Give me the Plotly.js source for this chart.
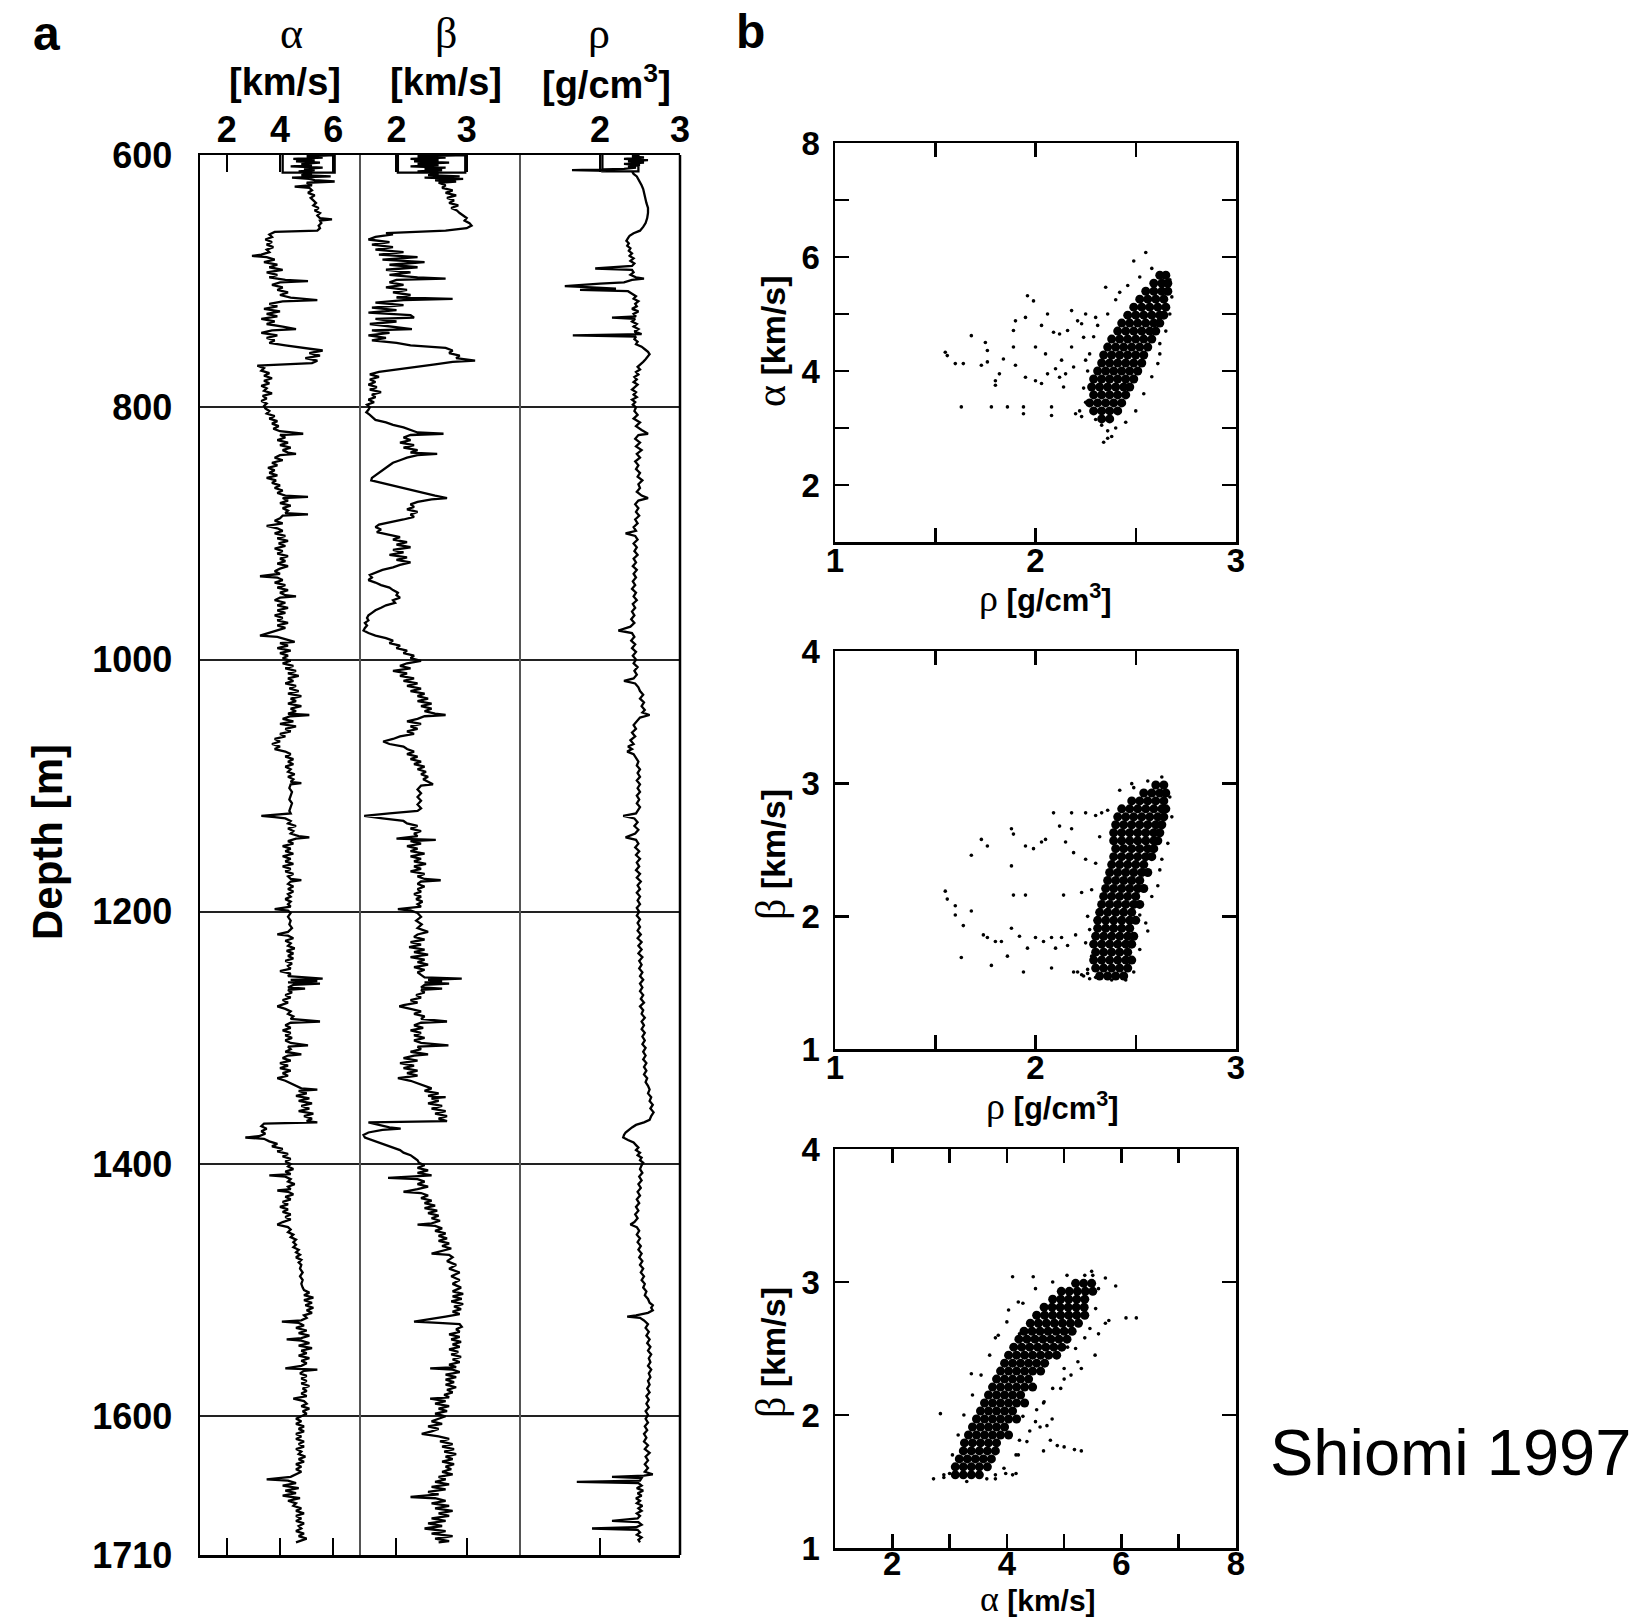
<!DOCTYPE html>
<html><head><meta charset="utf-8">
<script src="https://cdn.plot.ly/plotly-3.0.1.min.js"></script>
<style>html,body{margin:0;padding:0;background:#fff;}#chart{width:1645px;height:1619px;}</style>
</head><body><div id="chart"></div>
<script>
// ---------- DATA ----------
const depthTicks = [600,800,1000,1200,1400,1600,1710];
const alphaTicks = [2,4,6];
const betaTicks = [2,3];
const rhoTicks = [2,3];

// [depth m, alpha km/s]
const alphaLog = [[600,4.1],[614,4.1],[614,6.05],[600,6.05],[601,5.0],[602,5.6],[603,4.5],[604,5.3],[605,4.6],[606,5.5],[607,4.8],[608,5.2],[609,4.4],[610,5.6],[611,4.9],[612,5.3],[613,4.7],[615,5.2],[616,4.8],[617,5.9],[618,4.45],[619,5.1],[620,5.3],[621,6.05],[622,5.0],[624,5.2],[625,4.55],[626,5.1],[628,5.2],[630,5.05],[632,5.3],[634,5.15],[636,5.25],[638,5.35],[640,5.25],[642,5.45],[644,5.3],[646,5.5],[648,5.4],[650,5.5],[651,5.95],[652,5.5],[654,5.55],[656,5.45],[658,5.5],[660,5.4],[661,3.8],[663,3.6],[665,3.7],[667,3.45],[669,3.7],[671,3.5],[673,3.75],[675,3.5],[677,3.6],[679,3.3],[680,2.95],[681,3.5],[683,3.8],[685,3.4],[687,3.9],[689,3.6],[691,4.1],[693,3.5],[695,3.9],[697,3.6],[699,4.2],[700,5.05],[701,4.0],[703,3.7],[705,4.1],[707,3.9],[709,4.3],[711,4.0],[713,4.4],[715,5.4],[716,4.1],[718,3.6],[720,3.9],[722,3.4],[724,4.0],[726,3.5],[728,3.9],[730,3.3],[732,3.8],[734,3.5],[736,4.1],[738,4.6],[739,3.7],[741,3.3],[743,3.9],[745,3.5],[747,3.8],[749,3.6],[751,4.2],[753,5.0],[755,5.6],[757,5.1],[759,5.5],[761,4.95],[763,5.4],[765,5.2],[767,3.15],[769,3.4],[771,3.3],[773,3.6],[775,3.4],[777,3.7],[779,3.4],[781,3.6],[783,3.3],[785,3.5],[787,3.4],[789,3.7],[791,3.35],[793,3.5],[795,3.3],[797,3.5],[799,3.4],[801,3.45],[803,3.6],[805,3.5],[807,3.8],[809,3.6],[811,3.9],[813,3.7],[815,3.95],[817,3.75],[819,4.0],[821,4.87],[822,4.0],[824,4.2],[826,3.9],[828,4.3],[830,4.0],[832,4.4],[834,4.1],[836,4.3],[837,4.6],[838,4.0],[840,3.8],[842,4.1],[844,3.7],[846,3.9],[848,3.55],[850,3.8],[852,3.6],[854,3.9],[856,3.5],[858,3.85],[860,3.7],[862,4.0],[864,3.8],[866,4.1],[868,3.9],[870,4.2],[871,5.05],[872,4.1],[874,4.3],[876,4.0],[878,4.4],[880,4.1],[882,4.3],[884,4.2],[885,5.05],[886,4.1],[888,4.0],[890,3.8],[892,4.1],[894,3.5],[896,3.9],[898,4.1],[900,3.8],[902,4.2],[904,3.9],[906,4.3],[908,3.95],[910,4.2],[912,3.8],[914,4.1],[916,3.9],[918,4.3],[920,4.0],[922,4.2],[924,3.9],[926,4.3],[928,4.0],[930,3.8],[932,4.0],[934,3.25],[935,3.9],[937,4.1],[939,3.8],[941,4.2],[943,3.9],[945,4.3],[947,4.0],[949,4.2],[950,4.6],[951,4.0],[953,3.8],[955,4.2],[957,3.9],[959,4.3],[961,3.9],[963,4.2],[965,3.8],[967,4.1],[969,3.9],[971,4.3],[973,3.9],[975,4.2],[977,3.9],[979,3.6],[981,3.25],[982,3.9],[984,4.2],[986,4.55],[987,4.0],[989,4.3],[991,3.9],[993,4.4],[995,4.0],[997,4.3],[999,4.1],[1001,4.4],[1003,4.1],[1005,4.5],[1007,4.2],[1009,4.6],[1011,4.3],[1013,4.7],[1015,4.3],[1017,4.5],[1019,4.2],[1021,4.6],[1023,4.35],[1025,4.7],[1027,4.3],[1029,4.8],[1031,4.4],[1033,4.6],[1035,4.3],[1037,4.8],[1039,4.4],[1041,4.6],[1043,4.3],[1044,5.1],[1045,4.4],[1047,4.1],[1049,4.5],[1051,4.0],[1053,4.6],[1055,4.2],[1057,4.4],[1059,4.0],[1061,4.2],[1063,3.8],[1065,4.0],[1067,3.7],[1069,4.0],[1071,3.8],[1073,4.2],[1075,4.4],[1077,4.2],[1079,4.5],[1081,4.3],[1083,4.5],[1085,4.2],[1087,4.4],[1089,4.3],[1091,4.55],[1093,4.3],[1095,4.5],[1097,4.4],[1098,4.8],[1099,4.4],[1102,4.35],[1105,4.45],[1108,4.4],[1111,4.35],[1114,4.45],[1117,4.4],[1120,4.35],[1122,4.4],[1124,3.3],[1125,3.8],[1126,4.2],[1128,4.4],[1130,4.3],[1132,4.6],[1134,4.3],[1136,4.5],[1138,4.4],[1140,4.7],[1141,5.1],[1142,4.6],[1144,4.3],[1146,4.5],[1148,4.1],[1150,4.4],[1152,4.2],[1154,4.5],[1156,4.1],[1158,4.4],[1160,4.2],[1162,4.5],[1164,4.1],[1166,4.4],[1168,4.2],[1170,4.5],[1172,4.3],[1174,4.4],[1175,4.8],[1176,4.4],[1178,4.3],[1180,4.5],[1182,4.3],[1184,4.5],[1186,4.3],[1188,4.4],[1190,4.2],[1192,4.4],[1194,4.3],[1196,4.4],[1198,3.8],[1199,4.3],[1201,4.4],[1204,4.3],[1207,4.4],[1210,4.35],[1213,4.45],[1216,4.3],[1218,3.9],[1219,4.3],[1221,4.5],[1223,4.2],[1225,4.4],[1227,4.3],[1229,4.55],[1231,4.25],[1233,4.5],[1235,4.3],[1237,4.5],[1239,4.2],[1241,4.45],[1243,4.3],[1245,4.4],[1247,4.0],[1249,4.4],[1251,4.3],[1253,5.6],[1254,4.4],[1255,5.4],[1256,4.3],[1257,5.5],[1258,4.5],[1260,4.3],[1261,4.94],[1262,4.3],[1264,4.45],[1266,4.2],[1268,4.4],[1270,4.1],[1272,4.3],[1274,4.0],[1275,3.9],[1277,4.2],[1279,4.4],[1281,4.3],[1283,4.5],[1285,4.4],[1287,5.5],[1288,4.4],[1290,4.2],[1292,4.4],[1294,4.1],[1296,4.4],[1298,4.2],[1300,4.45],[1302,4.2],[1304,4.4],[1306,5.05],[1307,4.3],[1309,4.4],[1311,4.2],[1313,4.8],[1314,4.3],[1316,4.1],[1318,4.4],[1320,4.0],[1322,4.3],[1324,4.0],[1326,4.4],[1328,4.1],[1330,4.3],[1332,3.9],[1334,4.2],[1336,4.4],[1338,4.6],[1340,4.8],[1341,5.4],[1342,4.7],[1344,5.0],[1346,4.6],[1348,5.1],[1350,4.7],[1352,5.2],[1354,4.8],[1356,5.1],[1358,4.7],[1360,5.25],[1362,4.9],[1364,5.2],[1366,5.0],[1367,5.4],[1368,3.4],[1370,3.3],[1372,3.5],[1374,3.3],[1376,3.45],[1378,3.2],[1379,2.7],[1380,3.4],[1382,3.6],[1384,3.9],[1386,3.7],[1388,4.1],[1390,3.9],[1392,4.3],[1394,4.1],[1396,4.4],[1398,4.2],[1400,4.4],[1402,4.3],[1404,4.5],[1406,4.2],[1408,4.4],[1409,3.6],[1410,4.2],[1412,4.4],[1414,4.3],[1416,4.55],[1418,4.3],[1420,4.4],[1421,3.9],[1422,4.3],[1424,4.5],[1426,4.2],[1428,4.4],[1430,4.1],[1432,4.3],[1434,4.0],[1436,4.3],[1438,4.1],[1440,4.4],[1442,4.2],[1444,4.4],[1446,4.1],[1448,3.9],[1450,4.3],[1452,4.4],[1454,4.3],[1456,4.5],[1458,4.4],[1460,4.6],[1462,4.5],[1464,4.6],[1466,4.5],[1468,4.7],[1470,4.6],[1472,4.75],[1474,4.6],[1476,4.8],[1478,4.7],[1480,4.8],[1483,4.75],[1486,4.85],[1489,4.75],[1492,4.85],[1495,4.8],[1498,4.85],[1500,4.9],[1502,5.1],[1504,4.9],[1506,5.25],[1508,4.9],[1510,5.2],[1512,4.95],[1514,5.25],[1516,5.0],[1518,5.2],[1520,4.9],[1522,5.0],[1524,4.8],[1525,4.07],[1526,4.7],[1528,4.9],[1530,4.6],[1532,5.0],[1534,4.7],[1536,5.1],[1538,4.8],[1539,4.25],[1540,4.8],[1542,5.1],[1544,4.7],[1546,5.2],[1548,4.8],[1550,5.0],[1552,4.7],[1554,5.1],[1556,4.8],[1558,5.0],[1560,4.8],[1562,4.2],[1563,5.4],[1564,4.9],[1566,4.75],[1568,5.0],[1570,4.8],[1572,5.0],[1574,4.8],[1576,5.1],[1578,4.85],[1580,5.0],[1582,4.8],[1584,5.0],[1586,4.5],[1588,4.9],[1590,5.0],[1592,4.8],[1594,5.1],[1596,4.85],[1598,5.0],[1600,4.8],[1602,4.6],[1604,4.8],[1606,4.6],[1608,4.9],[1610,4.7],[1612,4.9],[1614,4.6],[1616,4.8],[1618,4.6],[1620,4.9],[1622,4.7],[1624,4.9],[1626,4.6],[1628,4.8],[1630,4.7],[1632,4.95],[1634,4.7],[1636,4.9],[1638,4.6],[1640,4.8],[1642,4.6],[1644,4.8],[1646,4.6],[1648,4.4],[1650,3.5],[1651,4.3],[1653,4.6],[1655,4.1],[1657,4.7],[1659,4.2],[1661,4.6],[1663,4.1],[1665,4.75],[1667,4.3],[1669,4.6],[1671,4.5],[1673,4.8],[1675,4.6],[1677,4.9],[1679,4.6],[1681,4.8],[1683,4.6],[1685,4.9],[1687,4.7],[1689,4.8],[1691,4.6],[1693,4.9],[1695,4.7],[1697,5.0],[1699,4.7],[1700,4.6]];

// [depth m, beta km/s]
const betaLog = [[600,2.02],[614,2.02],[614,2.98],[600,2.98],[601,2.3],[602,2.7],[603,2.2],[604,2.6],[605,2.25],[606,2.75],[607,2.3],[608,2.6],[609,2.2],[610,2.7],[611,2.4],[612,2.65],[613,2.3],[615,2.6],[616,2.45],[617,2.9],[618,2.4],[619,2.95],[620,2.55],[621,2.85],[622,2.6],[624,2.7],[626,2.65],[628,2.8],[630,2.7],[632,2.85],[634,2.72],[636,2.82],[638,2.75],[640,2.88],[642,2.78],[644,2.86],[646,2.9],[648,2.95],[650,3.0],[652,2.97],[654,3.04],[656,3.07],[658,3.0],[660,2.7],[661,2.1],[662,1.85],[663,1.95],[665,1.7],[667,1.6],[669,1.9],[671,1.65],[673,1.95],[675,1.7],[677,2.1],[679,1.75],[681,2.3],[683,1.8],[685,2.4],[687,1.9],[689,2.3],[691,1.85],[693,2.2],[695,1.9],[697,2.3],[698,2.7],[699,2.0],[701,1.9],[703,2.1],[705,1.85],[707,2.15],[709,1.95],[711,2.2],[713,2.0],[714,2.8],[715,2.1],[717,1.7],[719,2.1],[721,1.65],[723,2.0],[725,1.6],[727,2.2],[729,2.25],[730,1.7],[732,2.0],[734,1.62],[736,1.95],[738,2.22],[739,1.65],[741,1.9],[743,1.6],[745,1.85],[747,1.65],[749,2.0],[751,2.2],[753,2.7],[755,2.8],[757,2.75],[759,2.9],[761,2.85],[763,3.12],[764,2.8],[766,2.55],[768,2.3],[770,2.0],[772,1.75],[774,1.62],[776,1.75],[778,1.62],[780,1.7],[782,1.6],[784,1.72],[786,1.62],[788,1.78],[790,1.65],[792,1.7],[794,1.6],[796,1.68],[798,1.58],[800,1.62],[802,1.6],[804,1.57],[806,1.62],[808,1.66],[810,1.7],[812,1.85],[814,1.95],[816,2.1],[818,2.2],[820,2.3],[821,2.67],[822,2.2],[824,2.1],[826,2.2],[828,2.05],[830,2.25],[832,2.1],[834,2.3],[836,2.2],[837,2.58],[838,2.3],[840,2.15],[842,2.05],[844,1.95],[846,1.9],[848,1.85],[850,1.8],[852,1.75],[854,1.7],[856,1.65],[858,1.64],[860,1.8],[862,1.95],[864,2.1],[866,2.25],[868,2.4],[870,2.55],[872,2.72],[873,2.5],[875,2.3],[877,2.2],[879,2.25],[881,2.15],[883,2.3],[885,2.2],[887,2.25],[889,2.1],[891,1.9],[893,1.75],[895,1.7],[897,1.78],[899,1.72],[901,1.9],[903,2.05],[905,1.95],[907,2.15],[909,2.0],[911,2.2],[913,1.95],[915,2.1],[917,1.9],[919,2.15],[921,2.0],[923,2.2],[925,2.05],[927,1.95],[929,1.8],[931,1.7],[933,1.62],[935,1.65],[937,1.6],[939,1.7],[941,1.78],[943,1.9],[945,1.95],[947,2.02],[949,2.0],[951,2.05],[953,1.95],[955,1.98],[957,1.85],[959,1.78],[961,1.7],[963,1.65],[965,1.6],[967,1.58],[969,1.6],[971,1.55],[973,1.58],[975,1.55],[977,1.53],[979,1.6],[981,1.7],[983,1.85],[985,1.95],[987,1.9],[989,2.05],[991,2.0],[993,2.15],[995,2.1],[997,2.25],[999,2.2],[1001,2.35],[1003,2.15],[1005,2.05],[1007,2.2],[1009,1.95],[1011,2.15],[1013,2.05],[1015,2.25],[1017,2.1],[1019,2.3],[1021,2.15],[1023,2.35],[1025,2.2],[1027,2.4],[1029,2.3],[1031,2.45],[1033,2.3],[1035,2.5],[1037,2.35],[1039,2.5],[1041,2.4],[1043,2.55],[1044,2.7],[1045,2.4],[1047,2.3],[1049,2.15],[1051,2.35],[1053,2.2],[1055,2.3],[1057,2.15],[1059,2.25],[1061,2.05],[1063,1.95],[1065,1.81],[1067,1.9],[1069,2.1],[1071,2.15],[1073,2.25],[1075,2.15],[1077,2.3],[1079,2.2],[1081,2.35],[1083,2.25],[1085,2.4],[1087,2.3],[1089,2.42],[1091,2.35],[1093,2.45],[1095,2.38],[1097,2.45],[1099,2.52],[1100,2.35],[1103,2.3],[1106,2.35],[1109,2.3],[1112,2.35],[1115,2.3],[1118,2.35],[1120,2.3],[1122,1.9],[1124,1.54],[1126,1.8],[1128,2.1],[1130,2.15],[1132,2.3],[1134,2.2],[1136,2.35],[1138,2.25],[1140,2.3],[1142,2.0],[1143,2.56],[1144,2.2],[1146,2.35],[1148,2.15],[1150,2.3],[1152,2.2],[1154,2.4],[1156,2.2],[1158,2.35],[1160,2.25],[1162,2.42],[1164,2.25],[1166,2.35],[1168,2.2],[1170,2.4],[1172,2.3],[1174,2.4],[1175,2.63],[1176,2.35],[1178,2.3],[1180,2.4],[1182,2.3],[1184,2.35],[1186,2.25],[1188,2.35],[1190,2.28],[1192,2.37],[1194,2.3],[1196,2.35],[1198,2.02],[1199,2.2],[1201,2.3],[1204,2.35],[1207,2.28],[1210,2.36],[1213,2.3],[1216,2.45],[1218,2.3],[1220,2.25],[1222,2.4],[1224,2.2],[1226,2.35],[1228,2.18],[1230,2.4],[1232,2.25],[1234,2.45],[1236,2.2],[1238,2.4],[1240,2.3],[1242,2.45],[1244,2.25],[1246,2.4],[1248,2.3],[1250,2.35],[1252,2.4],[1253,2.93],[1254,2.45],[1255,2.65],[1256,2.4],[1257,2.75],[1258,2.4],[1260,2.35],[1261,2.65],[1262,2.35],[1264,2.4],[1266,2.28],[1268,2.35],[1270,2.2],[1272,2.3],[1274,2.1],[1275,2.04],[1277,2.2],[1279,2.35],[1281,2.25],[1283,2.4],[1285,2.35],[1287,2.72],[1288,2.35],[1290,2.25],[1292,2.38],[1294,2.2],[1296,2.35],[1298,2.25],[1300,2.4],[1302,2.25],[1304,2.35],[1306,2.74],[1307,2.3],[1309,2.35],[1311,2.2],[1313,2.45],[1314,2.25],[1316,2.1],[1318,2.3],[1320,2.05],[1322,2.25],[1324,2.1],[1326,2.3],[1328,2.15],[1330,2.3],[1332,2.02],[1334,2.2],[1336,2.3],[1338,2.4],[1340,2.5],[1342,2.4],[1344,2.6],[1346,2.45],[1347,2.7],[1348,2.5],[1350,2.6],[1352,2.45],[1354,2.65],[1356,2.5],[1358,2.7],[1360,2.55],[1362,2.72],[1364,2.6],[1366,2.72],[1367,1.6],[1369,1.75],[1371,1.9],[1372,2.06],[1373,1.8],[1375,1.6],[1377,1.53],[1379,1.55],[1381,1.65],[1383,1.75],[1385,1.85],[1387,1.95],[1389,2.05],[1391,2.1],[1393,2.2],[1395,2.25],[1397,2.3],[1399,2.32],[1401,2.4],[1403,2.3],[1405,2.45],[1407,2.3],[1409,2.5],[1411,1.88],[1412,2.3],[1414,2.4],[1416,2.3],[1418,2.45],[1420,2.3],[1422,2.1],[1423,2.35],[1425,2.45],[1427,2.35],[1429,2.5],[1431,2.4],[1433,2.55],[1435,2.4],[1437,2.58],[1439,2.45],[1441,2.6],[1443,2.5],[1445,2.62],[1447,2.5],[1448,2.3],[1449,2.55],[1451,2.65],[1453,2.55],[1455,2.7],[1457,2.6],[1459,2.72],[1461,2.6],[1463,2.75],[1465,2.65],[1467,2.78],[1469,2.65],[1471,2.5],[1472,2.75],[1474,2.8],[1477,2.72],[1480,2.85],[1483,2.75],[1486,2.9],[1489,2.78],[1492,2.9],[1495,2.8],[1498,2.92],[1501,2.8],[1503,2.95],[1505,2.8],[1507,2.93],[1509,2.78],[1511,2.95],[1513,2.82],[1515,2.92],[1517,2.8],[1519,2.9],[1521,2.7],[1523,2.5],[1525,2.25],[1526,2.6],[1527,2.9],[1529,2.93],[1531,2.85],[1533,2.9],[1535,2.75],[1537,2.9],[1539,2.78],[1541,2.92],[1543,2.8],[1545,2.9],[1547,2.75],[1549,2.88],[1551,2.78],[1553,2.92],[1555,2.8],[1557,2.9],[1559,2.75],[1561,2.85],[1562,2.48],[1563,2.8],[1565,2.9],[1567,2.7],[1569,2.85],[1571,2.7],[1573,2.82],[1575,2.7],[1577,2.85],[1579,2.72],[1581,2.8],[1583,2.68],[1585,2.75],[1586,2.48],[1588,2.7],[1590,2.55],[1592,2.75],[1594,2.6],[1596,2.72],[1598,2.55],[1600,2.7],[1602,2.6],[1604,2.5],[1606,2.65],[1608,2.45],[1610,2.6],[1612,2.5],[1614,2.36],[1616,2.6],[1618,2.75],[1620,2.62],[1622,2.8],[1624,2.65],[1626,2.82],[1628,2.68],[1630,2.85],[1632,2.7],[1634,2.8],[1636,2.65],[1638,2.82],[1640,2.7],[1642,2.78],[1644,2.65],[1646,2.8],[1648,2.6],[1650,2.7],[1652,2.55],[1654,2.75],[1656,2.5],[1658,2.7],[1660,2.45],[1662,2.6],[1664,2.2],[1665,2.55],[1667,2.7],[1669,2.5],[1671,2.75],[1673,2.55],[1675,2.8],[1677,2.6],[1679,2.75],[1681,2.5],[1683,2.7],[1685,2.45],[1687,2.65],[1689,2.4],[1691,2.7],[1693,2.5],[1695,2.8],[1697,2.55],[1699,2.75],[1700,2.6]];

// [depth m, rho g/cm3]
const rhoLog = [[600,2.03],[613,2.03],[613,2.48],[600,2.48],[601,2.4],[602,2.55],[603,2.3],[604,2.6],[605,2.35],[606,2.55],[607,2.3],[608,2.5],[609,2.35],[610,2.45],[611,2.3],[612,1.65],[613,2.4],[615,2.42],[617,2.46],[619,2.48],[621,2.5],[624,2.52],[627,2.54],[630,2.55],[634,2.57],[638,2.58],[642,2.6],[646,2.6],[650,2.59],[654,2.57],[657,2.54],[660,2.5],[662,2.42],[664,2.37],[666,2.35],[668,2.33],[670,2.36],[672,2.34],[674,2.38],[676,2.36],[678,2.4],[680,2.37],[682,2.42],[684,2.38],[686,2.43],[688,2.4],[690,1.94],[691,2.4],[693,2.42],[695,2.38],[697,2.45],[698,2.55],[699,2.4],[701,2.3],[702,2.0],[703,1.7],[704,1.56],[705,1.9],[706,2.2],[707,1.75],[708,2.35],[710,2.4],[712,2.45],[714,2.42],[716,2.48],[718,2.44],[720,2.46],[722,2.4],[724,2.48],[726,2.42],[728,2.45],[729,2.15],[730,2.44],[732,2.4],[734,2.46],[736,2.42],[738,2.48],[740,2.43],[742,2.52],[743,1.66],[744,2.45],[746,2.43],[748,2.47],[750,2.45],[752,2.52],[754,2.56],[756,2.6],[758,2.62],[760,2.6],[762,2.57],[764,2.54],[766,2.5],[768,2.47],[770,2.5],[772,2.45],[774,2.48],[776,2.43],[778,2.46],[780,2.42],[782,2.47],[784,2.44],[786,2.4],[788,2.45],[790,2.42],[792,2.46],[794,2.4],[796,2.44],[798,2.41],[800,2.45],[803,2.43],[806,2.47],[809,2.42],[812,2.5],[815,2.45],[818,2.52],[821,2.6],[822,2.48],[825,2.44],[828,2.5],[831,2.45],[834,2.52],[837,2.46],[840,2.5],[843,2.44],[846,2.48],[849,2.45],[852,2.5],[855,2.47],[858,2.53],[861,2.48],[864,2.5],[867,2.46],[870,2.52],[872,2.6],[874,2.48],[877,2.44],[880,2.48],[883,2.45],[886,2.49],[889,2.44],[892,2.47],[895,2.42],[898,2.45],[900,2.32],[902,2.44],[905,2.47],[908,2.42],[911,2.46],[914,2.43],[917,2.47],[920,2.42],[923,2.45],[926,2.41],[929,2.46],[932,2.42],[935,2.45],[938,2.41],[941,2.44],[944,2.4],[947,2.45],[950,2.42],[953,2.46],[956,2.41],[959,2.44],[962,2.4],[965,2.43],[968,2.39],[971,2.43],[974,2.38],[977,2.23],[979,2.4],[982,2.43],[985,2.39],[988,2.44],[991,2.4],[994,2.45],[997,2.41],[1000,2.45],[1003,2.42],[1006,2.47],[1009,2.43],[1012,2.46],[1015,2.42],[1017,2.3],[1019,2.44],[1022,2.48],[1025,2.5],[1028,2.54],[1031,2.5],[1034,2.55],[1037,2.52],[1040,2.56],[1042,2.53],[1044,2.62],[1046,2.5],[1049,2.46],[1052,2.42],[1055,2.45],[1058,2.4],[1061,2.44],[1064,2.38],[1067,2.42],[1069,2.35],[1071,2.4],[1073,2.34],[1075,2.42],[1078,2.45],[1081,2.48],[1084,2.46],[1087,2.5],[1090,2.47],[1093,2.5],[1096,2.46],[1099,2.5],[1102,2.47],[1105,2.5],[1108,2.46],[1111,2.49],[1114,2.46],[1117,2.5],[1120,2.47],[1122,2.45],[1124,2.29],[1126,2.43],[1129,2.47],[1132,2.43],[1135,2.48],[1138,2.44],[1141,2.32],[1143,2.45],[1146,2.48],[1149,2.44],[1152,2.49],[1155,2.45],[1158,2.5],[1161,2.46],[1164,2.49],[1167,2.45],[1170,2.5],[1173,2.46],[1176,2.51],[1179,2.47],[1182,2.5],[1185,2.46],[1188,2.5],[1191,2.47],[1194,2.5],[1197,2.46],[1200,2.49],[1203,2.46],[1206,2.5],[1209,2.47],[1212,2.5],[1215,2.47],[1218,2.51],[1221,2.47],[1224,2.52],[1227,2.48],[1230,2.52],[1233,2.48],[1236,2.53],[1239,2.49],[1242,2.52],[1245,2.49],[1248,2.53],[1251,2.5],[1254,2.54],[1257,2.5],[1260,2.53],[1263,2.5],[1266,2.54],[1269,2.51],[1272,2.55],[1275,2.5],[1278,2.54],[1281,2.52],[1284,2.56],[1287,2.52],[1290,2.55],[1293,2.52],[1296,2.56],[1299,2.53],[1302,2.56],[1305,2.53],[1308,2.57],[1311,2.54],[1314,2.57],[1317,2.54],[1320,2.58],[1323,2.55],[1326,2.58],[1329,2.55],[1332,2.59],[1335,2.57],[1338,2.6],[1341,2.62],[1344,2.6],[1347,2.64],[1350,2.62],[1353,2.66],[1356,2.63],[1359,2.67],[1362,2.64],[1365,2.62],[1367,2.55],[1369,2.45],[1371,2.4],[1373,2.36],[1375,2.32],[1377,2.3],[1379,2.29],[1381,2.35],[1383,2.42],[1385,2.45],[1387,2.48],[1389,2.45],[1391,2.5],[1393,2.47],[1395,2.52],[1397,2.5],[1399,2.54],[1401,2.52],[1404,2.5],[1407,2.53],[1410,2.49],[1413,2.52],[1416,2.48],[1419,2.51],[1422,2.47],[1425,2.5],[1428,2.46],[1431,2.49],[1434,2.45],[1437,2.48],[1440,2.44],[1443,2.47],[1446,2.43],[1448,2.38],[1450,2.46],[1453,2.49],[1456,2.46],[1459,2.5],[1462,2.47],[1465,2.51],[1468,2.48],[1471,2.52],[1474,2.49],[1477,2.53],[1480,2.5],[1483,2.54],[1486,2.51],[1489,2.55],[1492,2.52],[1495,2.56],[1498,2.54],[1501,2.58],[1504,2.56],[1507,2.6],[1510,2.62],[1512,2.66],[1514,2.64],[1516,2.66],[1518,2.6],[1520,2.45],[1521,2.34],[1522,2.5],[1524,2.55],[1527,2.6],[1530,2.57],[1533,2.61],[1536,2.58],[1539,2.62],[1542,2.59],[1545,2.63],[1548,2.6],[1551,2.64],[1554,2.61],[1557,2.63],[1560,2.6],[1563,2.64],[1566,2.61],[1569,2.63],[1572,2.6],[1575,2.62],[1578,2.59],[1581,2.62],[1584,2.58],[1587,2.61],[1590,2.58],[1593,2.61],[1596,2.57],[1599,2.6],[1602,2.57],[1605,2.6],[1608,2.56],[1611,2.59],[1614,2.55],[1617,2.58],[1620,2.55],[1623,2.6],[1626,2.56],[1629,2.62],[1632,2.57],[1635,2.6],[1638,2.56],[1641,2.6],[1644,2.56],[1646,2.66],[1647,2.55],[1648,2.15],[1649,2.52],[1651,2.5],[1652,1.71],[1653,2.48],[1655,2.52],[1657,2.46],[1659,2.54],[1661,2.47],[1663,2.52],[1665,2.45],[1667,2.5],[1669,2.46],[1671,2.53],[1673,2.48],[1675,2.52],[1677,2.46],[1679,2.5],[1681,2.47],[1683,2.15],[1684,2.48],[1686,2.52],[1688,2.45],[1689,1.9],[1690,2.47],[1692,2.5],[1694,2.46],[1696,2.52],[1698,2.48],[1700,2.5]];

// Scatter 1 (x = rho, y = alpha): dense core as rows [alpha, [rho...]]
const s1CoreRows = [[3.16,[2.33,2.37]],[3.30,[2.29,2.33,2.37,2.41]],[3.44,[2.27,2.31,2.35,2.39,2.43]],[3.58,[2.29,2.33,2.37,2.41,2.45]],[3.72,[2.28,2.32,2.36,2.40,2.44,2.47]],[3.86,[2.29,2.33,2.37,2.41,2.45,2.49]],[4.00,[2.31,2.35,2.39,2.43,2.47,2.51]],[4.14,[2.33,2.37,2.41,2.45,2.49,2.53]],[4.28,[2.34,2.38,2.42,2.46,2.50,2.54]],[4.42,[2.36,2.40,2.44,2.48,2.52,2.56]],[4.56,[2.38,2.42,2.46,2.50,2.54,2.58]],[4.70,[2.41,2.45,2.49,2.53,2.57,2.60]],[4.84,[2.43,2.47,2.51,2.55,2.59,2.62]],[4.98,[2.46,2.50,2.54,2.58,2.62,2.64]],[5.12,[2.49,2.53,2.57,2.61,2.65]],[5.26,[2.52,2.56,2.60,2.64]],[5.40,[2.55,2.59,2.63,2.66]],[5.54,[2.59,2.63,2.66]],[5.68,[2.62,2.65]]];
const s1Sparse = [[1.55,4.33],[1.56,4.27],[1.63,3.37],[1.68,4.62],[1.60,4.13],[1.64,4.13],[1.73,4.10],[1.76,4.36],[1.75,4.50],[1.76,4.16],[1.78,3.37],[1.80,3.75],[1.80,3.83],[1.82,3.95],[1.86,3.37],[1.84,4.21],[1.89,4.71],[1.89,4.42],[1.90,4.88],[1.90,4.10],[1.94,3.37],[1.94,3.25],[1.95,3.89],[1.96,5.32],[1.99,5.23],[1.95,4.94],[2.00,4.42],[2.00,3.83],[2.03,3.78],[2.03,4.80],[2.06,5.00],[2.05,4.30],[2.06,3.95],[2.08,3.37],[2.08,3.22],[2.09,4.68],[2.10,4.04],[2.12,4.65],[2.12,3.89],[2.13,4.19],[2.14,3.72],[2.15,3.95],[2.16,4.71],[2.18,5.06],[2.18,4.42],[2.19,4.07],[2.21,4.88],[2.23,4.83],[2.24,4.59],[2.25,4.19],[2.25,5.00],[2.30,4.94],[2.35,5.47],[2.42,5.38],[2.49,5.93],[2.55,6.08],[2.61,4.88],[2.62,4.48],[2.61,4.13],[2.25,3.45],[2.24,3.70],[2.26,4.00],[2.27,4.30],[2.29,4.60],[2.31,4.80],[2.36,5.00],[2.40,5.25],[2.46,5.50],[2.52,5.65],[2.58,5.80],[2.67,5.60],[2.68,5.30],[2.67,5.00],[2.65,4.70],[2.62,4.30],[2.58,3.90],[2.54,3.60],[2.50,3.30],[2.45,3.10],[2.40,3.00],[2.36,2.95],[2.33,3.05],[2.30,3.15],[2.22,3.30],[2.20,3.25],[2.23,3.20],[2.36,2.82],[2.34,2.75],[2.38,2.85]];

// Scatter 2 (x = rho, y = beta): rows [beta, [rho...]]
const s2CoreRows = [[1.55,[2.32,2.36,2.40,2.44]],[1.61,[2.30,2.34,2.38,2.42,2.46]],[1.67,[2.29,2.33,2.37,2.41,2.45,2.48]],[1.73,[2.30,2.34,2.38,2.42,2.46]],[1.79,[2.29,2.33,2.37,2.41,2.45,2.48]],[1.85,[2.30,2.34,2.38,2.42,2.46,2.49]],[1.91,[2.31,2.35,2.39,2.43,2.47]],[1.97,[2.31,2.35,2.39,2.43,2.47,2.50]],[2.03,[2.32,2.36,2.40,2.44,2.48]],[2.09,[2.33,2.37,2.41,2.45,2.49,2.52]],[2.15,[2.34,2.38,2.42,2.46,2.50]],[2.21,[2.35,2.39,2.43,2.47,2.51,2.54]],[2.27,[2.36,2.40,2.44,2.48,2.52]],[2.33,[2.37,2.41,2.45,2.49,2.53,2.56]],[2.39,[2.38,2.42,2.46,2.50,2.54]],[2.45,[2.39,2.43,2.47,2.51,2.55,2.58]],[2.51,[2.40,2.44,2.48,2.52,2.56,2.59]],[2.57,[2.39,2.43,2.47,2.51,2.55,2.59,2.61]],[2.63,[2.39,2.43,2.47,2.51,2.55,2.59,2.62]],[2.69,[2.40,2.44,2.48,2.52,2.56,2.60,2.63]],[2.75,[2.41,2.45,2.49,2.53,2.57,2.61,2.64]],[2.81,[2.43,2.47,2.51,2.55,2.59,2.63,2.65]],[2.87,[2.48,2.52,2.56,2.60,2.64]],[2.93,[2.54,2.58,2.62,2.65]],[2.99,[2.60,2.64]]];
const s2Sparse = [[1.55,2.19],[1.56,2.13],[1.60,2.08],[1.60,2.01],[1.63,1.69],[1.64,1.93],[1.68,2.04],[1.68,2.46],[1.73,2.58],[1.76,2.53],[1.74,1.86],[1.76,1.84],[1.78,1.63],[1.80,1.81],[1.83,1.81],[1.86,1.70],[1.88,2.38],[1.88,2.66],[1.89,2.62],[1.88,1.91],[1.89,2.16],[1.92,1.85],[1.94,1.58],[1.95,2.16],[1.95,2.53],[1.99,2.51],[1.96,1.76],[2.00,1.84],[2.03,2.56],[2.05,2.58],[2.04,1.81],[2.08,1.84],[2.08,1.61],[2.09,2.78],[2.10,1.76],[2.12,2.68],[2.13,1.84],[2.14,2.16],[2.15,2.56],[2.16,1.78],[2.18,2.78],[2.18,2.66],[2.19,2.48],[2.20,1.86],[2.21,1.58],[2.23,2.18],[2.25,2.43],[2.25,2.78],[2.30,2.76],[2.33,2.78],[2.49,2.97],[2.56,1.89],[2.61,2.23],[2.63,2.43],[2.52,2.01],[2.23,1.56],[2.26,1.57],[2.19,1.58],[2.26,1.60],[2.25,1.80],[2.26,2.00],[2.28,2.20],[2.30,2.40],[2.32,2.60],[2.36,2.80],[2.42,2.95],[2.48,3.00],[2.56,3.02],[2.63,3.05],[2.67,2.90],[2.68,2.75],[2.66,2.55],[2.62,2.35],[2.58,2.15],[2.55,1.95],[2.52,1.75],[2.49,1.58],[2.45,1.52],[2.38,1.52],[2.30,1.54],[2.27,1.53],[2.24,1.55],[2.28,1.70],[2.27,1.90]];

// Scatter 3 (x = alpha, y = beta): rows [beta, [alpha...]]
const s3CoreRows = [[1.55,[3.10,3.24,3.38,3.52]],[1.61,[3.10,3.24,3.38,3.52,3.66]],[1.67,[3.17,3.31,3.45,3.59,3.73]],[1.73,[3.24,3.38,3.52,3.66,3.80]],[1.79,[3.26,3.40,3.54,3.68,3.82]],[1.85,[3.33,3.47,3.61,3.75,3.89,4.03]],[1.91,[3.40,3.54,3.68,3.82,3.96]],[1.97,[3.47,3.61,3.75,3.89,4.03,4.17]],[2.03,[3.54,3.68,3.82,3.96,4.10]],[2.09,[3.61,3.75,3.89,4.03,4.17,4.31]],[2.15,[3.68,3.82,3.96,4.10,4.24]],[2.21,[3.75,3.89,4.03,4.17,4.31,4.45]],[2.27,[3.82,3.96,4.10,4.24,4.38]],[2.33,[3.89,4.03,4.17,4.31,4.45,4.59]],[2.39,[3.96,4.10,4.24,4.38,4.52,4.66]],[2.45,[4.03,4.17,4.31,4.45,4.59,4.73,4.87]],[2.51,[4.12,4.26,4.40,4.54,4.68,4.82,4.96]],[2.57,[4.21,4.35,4.49,4.63,4.77,4.91,5.05]],[2.63,[4.30,4.44,4.58,4.72,4.86,5.00,5.14]],[2.69,[4.41,4.55,4.69,4.83,4.97,5.11,5.25]],[2.75,[4.52,4.66,4.80,4.94,5.08,5.22,5.36]],[2.81,[4.65,4.79,4.93,5.07,5.21,5.35]],[2.87,[4.80,4.94,5.08,5.22,5.36]],[2.93,[4.95,5.09,5.23,5.37,5.50]],[2.99,[5.20,5.34,5.48]]];
const s3Sparse = [[2.84,2.01],[2.72,1.52],[2.90,1.55],[3.80,1.55],[3.98,1.56],[4.16,1.56],[3.38,2.31],[3.80,2.58],[4.10,3.04],[4.46,3.04],[4.03,2.79],[4.22,2.61],[4.52,2.04],[4.58,1.91],[4.64,1.73],[4.76,1.81],[4.79,1.97],[4.88,1.77],[5.00,1.76],[5.18,1.74],[5.30,1.73],[4.70,1.92],[4.94,2.20],[5.00,2.27],[5.12,2.30],[5.24,2.40],[5.30,2.35],[5.54,2.45],[5.60,2.61],[5.72,2.69],[5.78,2.71],[6.08,2.73],[6.26,2.73],[5.90,2.97],[5.72,3.03],[5.36,3.05],[5.48,3.08],[4.64,2.09],[4.40,1.88],[4.28,1.99],[4.22,1.81],[4.16,1.70],[4.46,2.20],[5.06,2.51],[5.36,2.58],[4.76,2.63],[4.28,2.84],[5.12,2.87],[2.90,1.53],[3.00,1.56],[3.05,1.70],[3.15,1.85],[3.25,2.00],[3.40,2.15],[3.55,2.30],[3.70,2.45],[3.85,2.60],[4.00,2.70],[4.20,2.85],[4.50,2.95],[4.80,3.00],[5.05,3.05],[5.50,3.05],[5.60,2.95],[5.55,2.80],[5.45,2.65],[5.20,2.50],[5.00,2.35],[4.80,2.20],[4.65,2.10],[4.50,1.95],[4.35,1.80],[4.20,1.70],[3.95,1.60],[3.80,1.52],[3.65,1.52],[4.10,1.55],[3.30,1.50]];

// ---------- LAYOUT HELPERS ----------
const W = 1645, H = 1619;
const px = v => v / W;
const py = v => 1 - v / H;
const SANS = 'Liberation Sans, Arial, sans-serif';
const SERIF = 'Liberation Serif, Times New Roman, serif';

function flatRows(rows){
  const xs = [], ys = [];
  rows.forEach(r => r[1].forEach(v => { xs.push(v); ys.push(r[0]); }));
  return {xs, ys};
}
const c1 = flatRows(s1CoreRows), c2 = flatRows(s2CoreRows), c3 = flatRows(s3CoreRows);

const logLine = {color:'#000', width:2.3};
const coreMk = {size:9, color:'#000'};
const sparseMk = {size:3.6, color:'#000'};
const traces = [
  {type:'scatter', mode:'lines', x: alphaLog.map(p=>p[1]), y: alphaLog.map(p=>p[0]), xaxis:'x', yaxis:'y', line: logLine},
  {type:'scatter', mode:'lines', x: betaLog.map(p=>p[1]), y: betaLog.map(p=>p[0]), xaxis:'x2', yaxis:'y', line: logLine},
  {type:'scatter', mode:'lines', x: rhoLog.map(p=>p[1]), y: rhoLog.map(p=>p[0]), xaxis:'x3', yaxis:'y', line: logLine},
  {type:'scatter', mode:'markers', x: c1.xs, y: c1.ys, xaxis:'x4', yaxis:'y2', marker: coreMk},
  {type:'scatter', mode:'markers', x: s1Sparse.map(p=>p[0]), y: s1Sparse.map(p=>p[1]), xaxis:'x4', yaxis:'y2', marker: sparseMk},
  {type:'scatter', mode:'markers', x: c2.xs, y: c2.ys, xaxis:'x5', yaxis:'y3', marker: coreMk},
  {type:'scatter', mode:'markers', x: s2Sparse.map(p=>p[0]), y: s2Sparse.map(p=>p[1]), xaxis:'x5', yaxis:'y3', marker: sparseMk},
  {type:'scatter', mode:'markers', x: c3.xs, y: c3.ys, xaxis:'x6', yaxis:'y4', marker: coreMk},
  {type:'scatter', mode:'markers', x: s3Sparse.map(p=>p[0]), y: s3Sparse.map(p=>p[1]), xaxis:'x6', yaxis:'y4', marker: sparseMk}
];

function logX(d0, d1, range, vals){
  return {domain:[px(d0), px(d1)], range: range, anchor:'y', side:'top', tickmode:'array', tickvals: vals,
    ticks:'inside', ticklen:17, tickwidth:2, tickcolor:'#000', showline:true, linewidth:2.5, linecolor:'#000',
    mirror:'ticks', showgrid:false, zeroline:false, tickfont:{family:SANS, size:36, color:'#000', weight:'bold'},
    ticklabelstandoff: -4};
}
function scAxis(dom, anchor, range, vals, minorStep, standoff){
  return {domain: dom, anchor: anchor, range: range, tickmode:'array', tickvals: vals,
    ticks:'inside', ticklen:14, tickwidth:2.5, tickcolor:'#000', showline:true, linewidth:2.5, linecolor:'#000',
    mirror:'ticks', showgrid:false, zeroline:false, tickfont:{family:SANS, size:33, color:'#000', weight:'bold'},
    minor:{dtick: minorStep, tick0: 1, ticks:'inside', ticklen:14, tickwidth:2.5, tickcolor:'#000', showgrid:false},
    ticklabelstandoff: standoff};
}
const scXdom = [px(835), px(1236)];
const s1Y = [py(542), py(143)], s2Y = [py(1049), py(651)], s3Y = [py(1548), py(1149)];

function ann(text, x, y, size, opts){
  return Object.assign({text:text, x:px(x), y:py(y), xref:'paper', yref:'paper', showarrow:false,
    xanchor:'center', yanchor:'middle', font:{family:SANS, size:size, color:'#000'}}, opts || {});
}
const G = (s, sz) => '<span style="font-family:Liberation Serif;font-size:' + sz + 'px">' + s + '</span>';

const layout = {
  width: W, height: H, margin:{l:0, r:0, t:0, b:0}, paper_bgcolor:'#fff', plot_bgcolor:'#fff',
  showlegend:false, font:{family:SANS, color:'#000'},
  xaxis: logX(200, 360, [1,7], alphaTicks),
  xaxis2: logX(360, 520, [1.48,3.76], betaTicks),
  xaxis3: logX(520, 680, [1,3], rhoTicks),
  yaxis: {domain:[py(1555), py(155)], range:[1710,600], anchor:'x', tickmode:'array', tickvals: depthTicks,
    ticks:'', showline:true, linewidth:2.5, linecolor:'#000', showgrid:true, gridcolor:'#222', gridwidth:2,
    zeroline:false, tickfont:{family:SANS, size:36, color:'#000', weight:'bold'}, ticklabelstandoff: 18},
  xaxis4: scAxis(scXdom, 'y2', [1,3], [1,2,3], 0.5, -12),
  yaxis2: scAxis(s1Y, 'x4', [1,8], [2,4,6,8], 1, 6),
  xaxis5: scAxis(scXdom, 'y3', [1,3], [1,2,3], 0.5, -12),
  yaxis3: scAxis(s2Y, 'x5', [1,4], [1,2,3,4], 1, 6),
  xaxis6: scAxis(scXdom, 'y4', [1,8], [2,4,6,8], 1, -15),
  yaxis4: scAxis(s3Y, 'x6', [1,4], [1,2,3,4], 1, 6),
  shapes: [
    {type:'line', xref:'x2 domain', yref:'y domain', x0:0, x1:0, y0:0, y1:1, line:{color:'#555', width:2}},
    {type:'line', xref:'x3 domain', yref:'y domain', x0:0, x1:0, y0:0, y1:1, line:{color:'#555', width:2}},
    {type:'line', xref:'x3 domain', yref:'y domain', x0:1, x1:1, y0:0, y1:1, line:{color:'#000', width:2.5}}
  ],
  annotations: [
    ann('<b>a</b>', 46, 34, 48),
    ann('<b>b</b>', 750, 32, 48),
    ann('α', 291, 34, 44, {font:{family:SERIF, size:44, color:'#000'}}),
    ann('β', 446, 34, 44, {font:{family:SERIF, size:44, color:'#000'}}),
    ann('ρ', 599, 34, 44, {font:{family:SERIF, size:44, color:'#000'}}),
    ann('<b>[km/s]</b>', 285, 82, 38),
    ann('<b>[km/s]</b>', 446, 82, 38),
    ann('<b>[g/cm<sup>3</sup>]</b>', 606, 82, 38),
    ann('<b>Depth [m]</b>', 47, 842, 42, {textangle:-90}),
    ann(G('ρ', 38) + '<b> [g/cm<sup>3</sup>]</b>', 1045, 598, 31),
    ann(G('α', 42) + '<b> [km/s]</b>', 771, 341, 34, {textangle:-90}),
    ann(G('ρ', 38) + '<b> [g/cm<sup>3</sup>]</b>', 1052, 1106, 31),
    ann(G('β', 42) + '<b> [km/s]</b>', 771, 855, 34, {textangle:-90}),
    ann(G('α', 36) + '<b> [km/s]</b>', 1038, 1599, 30),
    ann(G('β', 42) + '<b> [km/s]</b>', 771, 1353, 34, {textangle:-90}),
    ann('Shiomi 1997', 1268, 1452, 65, {xanchor:'left'})
  ]
};

Plotly.newPlot('chart', traces, layout, {staticPlot:true, displayModeBar:false});
</script>
</body></html>
